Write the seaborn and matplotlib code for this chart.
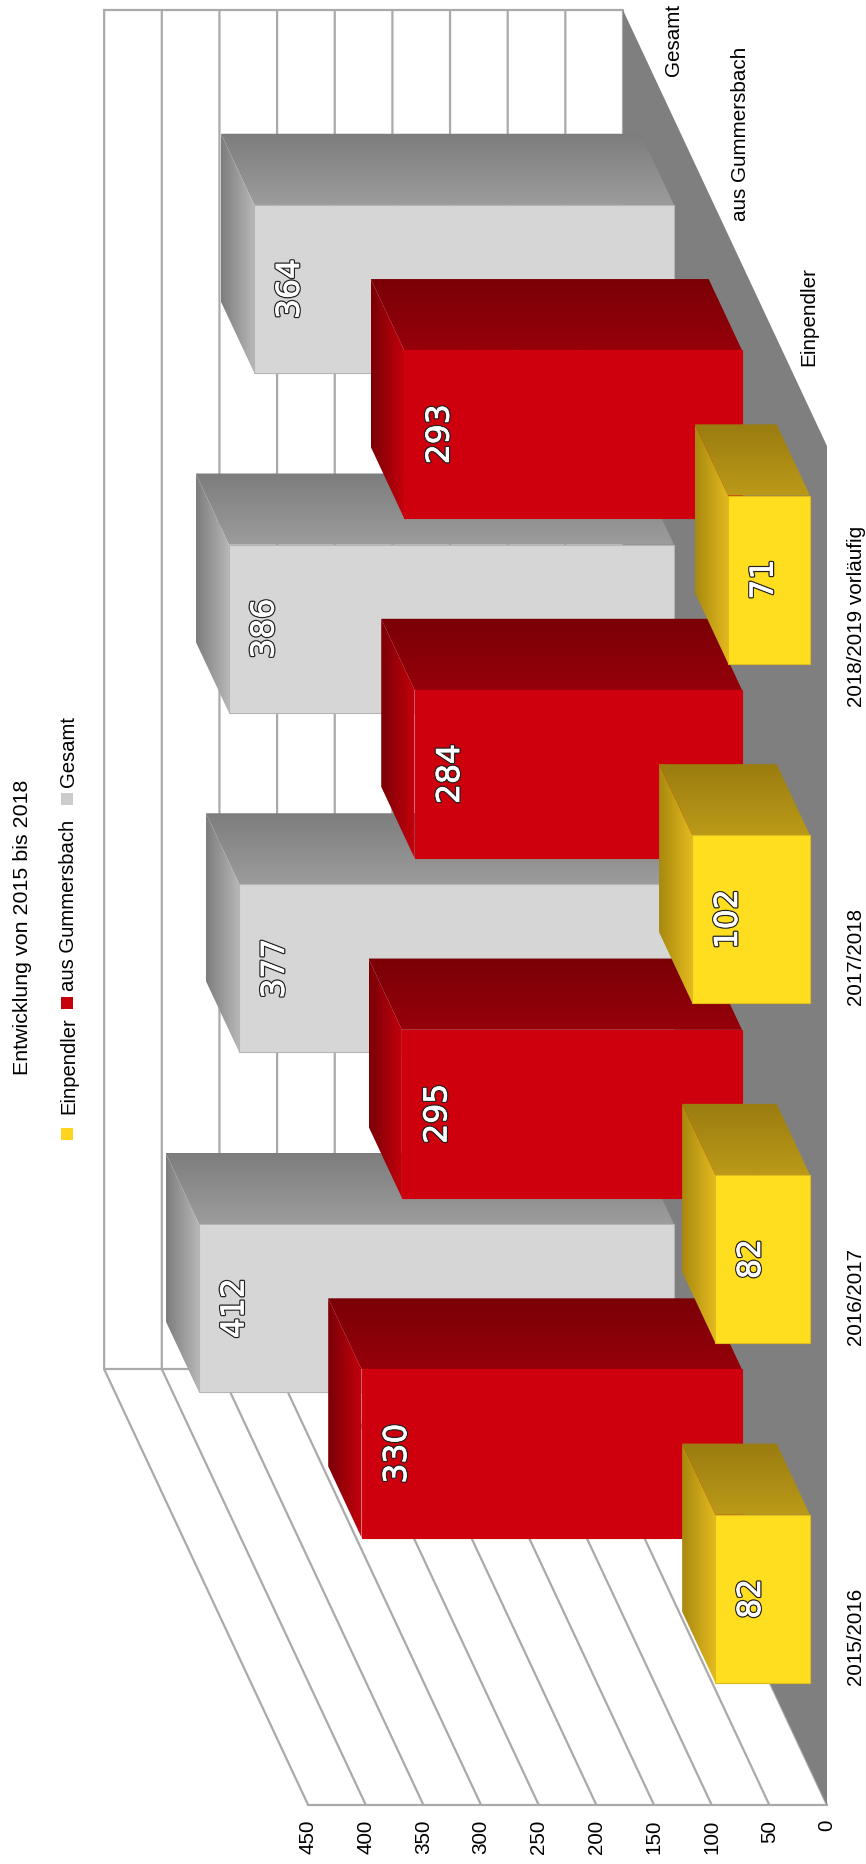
import numpy as np
import pandas as pd
import seaborn as sns
import matplotlib
matplotlib.use('Agg')
from matplotlib import pyplot as plt
from matplotlib import patheffects as pe
from matplotlib.colors import to_rgb
from matplotlib.patches import Polygon, Rectangle

# data
categories = ['2015/2016', '2016/2017', '2017/2018', '2018/2019 vorläufig']
series_names = ['Einpendler', 'aus Gummersbach', 'Gesamt']
einpendler = [82, 82, 102, 71]
gummersbach = [330, 295, 284, 293]
gesamt = [412, 377, 386, 364]
value_ticks = [0, 50, 100, 150, 200, 250, 300, 350, 400, 450]

# figure geometry, in pixels
W, H = 866, 1865
X0, Y0 = 827, 1806      # front corner of the floor (value 0)
PX_VALUE = 1.153        # pixels per value unit
PX_CAT = 339.75         # pixels per category
DEPTH_X, DEPTH_Y = 68, 145.3   # pixels per series along the depth axis
BAR_W = 0.4945
BAR_FRONT, BAR_DEPTH = 0.25, 0.49
GRID = '#aaaaaa'

sns.set_theme(style='white')
plt.rcParams['font.family'] = ['Liberation Sans', 'DejaVu Sans']

fig = plt.figure(figsize=(W / 100, H / 100), dpi=100)
ax = fig.add_axes([0, 0, 1, 1])


def project(v, c, d):
    # value, category position, depth -> data coords of the front plane
    return v + d * DEPTH_X / PX_VALUE, c + d * DEPTH_Y / PX_CAT


def shaded(poly, col_light, col_dark, vertical, z):
    # polygon with a linear gradient, dark towards the back of the chart
    xs, ys = zip(*poly)
    steps = np.linspace(0, 1, 64)[:, None]
    grad = (1 - steps) * np.array(to_rgb(col_light)) + steps * np.array(to_rgb(col_dark))
    arr = grad[:, None, :] if vertical else grad[None, :, :]
    im = ax.imshow(arr, extent=(min(xs), max(xs), min(ys), max(ys)), origin='lower',
                   aspect='auto', interpolation='bilinear', zorder=z)
    clip = Polygon(poly, closed=True, fc='none', ec='none', transform=ax.transData)
    ax.add_patch(clip)
    im.set_clip_path(clip)


ax.set_xlim((X0 - 0) / PX_VALUE, (X0 - W) / PX_VALUE)
ax.set_ylim(-0.5 - (H - Y0) / PX_CAT, -0.5 + Y0 / PX_CAT)
ax.autoscale(False)

n_cat = len(categories)
n_ser = len(series_names)
c_lo, c_hi = -0.5, n_cat - 0.5

# floor
ax.fill(*zip(project(0, c_lo, 0), project(0, c_hi, 0), project(0, c_hi, n_ser), project(0, c_lo, n_ser)),
        color='#7f7f7f', lw=0, zorder=1)

# walls and grid
for t in value_ticks:
    ax.plot(*zip(project(t, c_lo, 0), project(t, c_lo, n_ser), project(t, c_hi, n_ser)),
            color=GRID, lw=1.6, zorder=0.5, solid_joinstyle='miter')
ax.plot(*zip(project(0, c_lo, 0), project(value_ticks[-1], c_lo, 0)), color=GRID, lw=1.6, zorder=0.5)
ax.plot(*zip(project(0, c_lo, n_ser), project(value_ticks[-1], c_lo, n_ser)), color=GRID, lw=1.6, zorder=0.5)
ax.plot(*zip(project(0, c_hi, n_ser), project(value_ticks[-1], c_hi, n_ser)), color=GRID, lw=1.6, zorder=0.5)

# bars, drawn back to front
styles = [
    # front, edge, top face light/dark, end face light/dark
    (einpendler, '#ffdd1f', '#e0bb1e', '#bb9a18', '#9a7c10', '#e3ba1f', '#a8890f'),
    (gummersbach, '#cf000d', '#cf000d', '#96000a', '#7a0006', '#c4000c', '#7a0006'),
    (gesamt, '#d6d6d6', '#b4b4b4', '#9c9c9c', '#7d7d7d', '#b8b8b8', '#7d7d7d'),
]
label_fx = [pe.Stroke(linewidth=2.3, foreground='#222222'), pe.Stroke(linewidth=0.5, foreground='white'), pe.Normal()]
for s in reversed(range(n_ser)):
    vals, front, edge, top_l, top_d, end_l, end_d = styles[s]
    d0 = s + BAR_FRONT
    d1 = d0 + BAR_DEPTH
    z = 2 + (2 - (s)) * 2
    dv, dc = project(0, 0, d0)
    df = pd.DataFrame({'value': vals, 'pos': [i + dc for i in range(n_cat)]})
    sns.barplot(data=df, x='value', y='pos', orient='y', native_scale=True, width=BAR_W,
                color=front, saturation=1, errorbar=None, edgecolor=edge, linewidth=0.8,
                zorder=z + 1, ax=ax)
    for bar in ax.containers[-1]:
        bar.set_x(bar.get_x() + dv)
    for i, v in enumerate(vals):
        top = i + BAR_W / 2
        bot = i - BAR_W / 2
        shaded([project(0, top, d0), project(v, top, d0), project(v, top, d1), project(0, top, d1)],
               top_l, top_d, True, z)
        shaded([project(v, bot, d0), project(v, top, d0), project(v, top, d1), project(v, bot, d1)],
               end_l, end_d, False, z + 0.5)
        lx, ly = project(v - 36 / PX_VALUE, i, d0)
        ax.text(lx, ly, str(v), rotation=90, ha='center', va='center', color='white', fontsize=22.6,
                family='DejaVu Sans', zorder=20, path_effects=label_fx)

# axis texts
for t in value_ticks:
    ax.annotate(str(t), xy=project(t, c_lo, 0), xytext=(0, -14), textcoords='offset pixels',
                rotation=90, ha='center', va='top', fontsize=14.9, color='black')
for i, name in enumerate(categories):
    ax.annotate(name, xy=project(0, i, 0), xytext=(29, 0), textcoords='offset pixels',
                rotation=90, ha='center', va='center', fontsize=14.9, color='black')
for s, name in enumerate(series_names):
    ax.annotate(name, xy=project(0, c_hi, s + 0.5), xytext=(16, 8), textcoords='offset pixels',
                rotation=90, ha='center', va='bottom', fontsize=14.9, color='black')

# title and legend, rotated with the chart
fig.text(23 / W, 1 - 927 / H, 'Entwicklung von 2015 bis 2018', rotation=90, ha='center', va='center',
         fontsize=15.4, color='black')
legend_colors = ['#ffd320', '#c5000b', '#cccccc']
legend_tops = [1017, 820, 716]
legend_boxes = [1129, 998, 794]
for name, col, ty, by in zip(series_names, legend_colors, legend_tops, legend_boxes):
    fig.text(68.5 / W, 1 - ty / H, name, rotation=90, ha='center', va='top', fontsize=14.6, color='black')
    fig.add_artist(Rectangle((61 / W, 1 - (by + 12) / H), 12 / W, 12 / H, transform=fig.transFigure,
                             fc=col, ec='none'))

ax.set_xlim((X0 - 0) / PX_VALUE, (X0 - W) / PX_VALUE)
ax.set_ylim(-0.5 - (H - Y0) / PX_CAT, -0.5 + Y0 / PX_CAT)
ax.axis('off')

fig.savefig('out.png', dpi=100, facecolor='white')
